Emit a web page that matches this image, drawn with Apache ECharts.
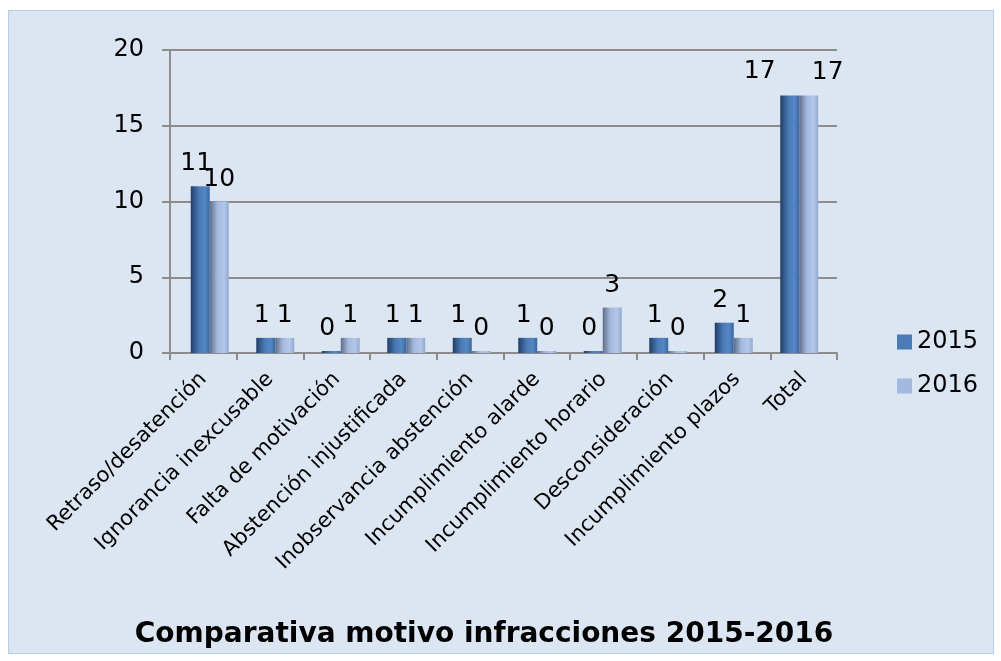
<!DOCTYPE html>
<html>
<head>
<meta charset="utf-8">
<script src="https://cdn.jsdelivr.net/npm/echarts@6/dist/echarts.min.js"></script>
<style>
  html, body { margin: 0; padding: 0; background: #ffffff; }
  #frame {
    position: absolute; left: 8px; top: 10px; width: 986px; height: 644px;
    background: #dce6f2; border: 1px solid #b9cde5; box-sizing: border-box;
  }
  #chart { position: absolute; left: 0; top: 0; width: 1001px; height: 661px; }
</style>
</head>
<body>
<div id="frame"></div>
<div id="chart"></div>
<script>
const categories = [
    'Retraso/desatención', 'Ignorancia inexcusable', 'Falta de motivación',
    'Abstención injustificada', 'Inobservancia abstención', 'Incumplimiento alarde',
    'Incumplimiento horario', 'Desconsideración', 'Incumplimiento plazos', 'Total'
];
const values2015 = [11, 1, 0, 1, 1, 1, 0, 1, 2, 17];
const values2016 = [10, 1, 1, 1, 0, 0, 3, 0, 1, 17];
const yTicks = [0, 5, 10, 15, 20];

const FONT = 'DejaVu Sans';
const AXIS_GRAY = '#8c8c8c';

const grad2015 = new echarts.graphic.LinearGradient(0, 0, 1, 0, [
    { offset: 0, color: '#233e66' },
    { offset: 0.45, color: '#4a7bb7' },
    { offset: 0.75, color: '#5487c4' },
    { offset: 1, color: '#3a679e' }
]);
const grad2016 = new echarts.graphic.LinearGradient(0, 0, 1, 0, [
    { offset: 0, color: '#5f6d88' },
    { offset: 0.4, color: '#a3b9de' },
    { offset: 0.75, color: '#b3c7e8' },
    { offset: 1, color: '#93a9d0' }
]);

// the Total labels are pushed apart in the original
function buildData(values, totalOffset) {
    return values.map((v, i) => {
        const item = { value: v };
        if (i === categories.length - 1) item.label = { offset: totalOffset };
        return item;
    });
}

const chart = echarts.init(document.getElementById('chart'));
chart.setOption({
    animation: false,
    textStyle: { fontFamily: FONT },
    grid: [
        { left: 170, right: 164, top: 50, bottom: 308 },
        // bars sit slightly inside the axis frame (3D depth look)
        { left: 177, right: 169, top: 50, bottom: 308 }
    ],
    legend: {
        orient: 'vertical',
        left: 892,
        top: 325,
        itemWidth: 15,
        itemHeight: 15,
        itemGap: 20,
        icon: 'rect',
        textStyle: { fontFamily: FONT, fontSize: 24, color: '#000' },
        data: [
            { name: '2015', itemStyle: { color: '#4a7bb7' } },
            { name: '2016', itemStyle: { color: '#a3b9de' } }
        ]
    },
    title: {
        text: 'Comparativa motivo infracciones 2015-2016',
        left: 479,
        top: 616,
        textAlign: 'center',
        textStyle: { fontFamily: FONT, fontSize: 28, fontWeight: 'bold', color: '#000' }
    },
    xAxis: [
        {
            type: 'category',
            gridIndex: 0,
            data: categories,
            axisLine: { lineStyle: { color: AXIS_GRAY, width: 2 } },
            axisTick: { show: true, length: 7, lineStyle: { color: AXIS_GRAY, width: 2 } },
            axisLabel: {
                rotate: 45, fontFamily: FONT, fontSize: 21, color: '#000',
                interval: 0, margin: 23
            }
        },
        {
            type: 'category',
            gridIndex: 1,
            data: categories,
            show: false
        }
    ],
    yAxis: [
        {
            type: 'value',
            gridIndex: 0,
            min: yTicks[0],
            max: yTicks[yTicks.length - 1],
            interval: 5,
            axisLine: { show: true, lineStyle: { color: AXIS_GRAY, width: 2 } },
            axisTick: { show: true, length: 8, lineStyle: { color: AXIS_GRAY, width: 2 } },
            splitLine: { lineStyle: { color: AXIS_GRAY, width: 2 } },
            axisLabel: { fontFamily: FONT, fontSize: 24, color: '#000', margin: 26 }
        },
        {
            type: 'value',
            gridIndex: 1,
            min: yTicks[0],
            max: yTicks[yTicks.length - 1],
            show: false
        }
    ],
    series: [
        {
            name: '2015',
            type: 'bar',
            xAxisIndex: 1,
            yAxisIndex: 1,
            data: buildData(values2015, [-30, -1]),
            barWidth: 19,
            barGap: '0%',
            barMinHeight: 2,
            itemStyle: { color: grad2015 },
            label: {
                show: true, position: 'top', distance: 10,
                fontFamily: FONT, fontSize: 25, color: '#000', offset: [-4, 0]
            }
        },
        {
            name: '2016',
            type: 'bar',
            xAxisIndex: 1,
            yAxisIndex: 1,
            data: buildData(values2016, [19, 0]),
            barWidth: 19,
            barMinHeight: 2,
            itemStyle: { color: grad2016 },
            label: {
                show: true, position: 'top', distance: 10,
                fontFamily: FONT, fontSize: 25, color: '#000'
            }
        }
    ]
});
</script>
</body>
</html>
